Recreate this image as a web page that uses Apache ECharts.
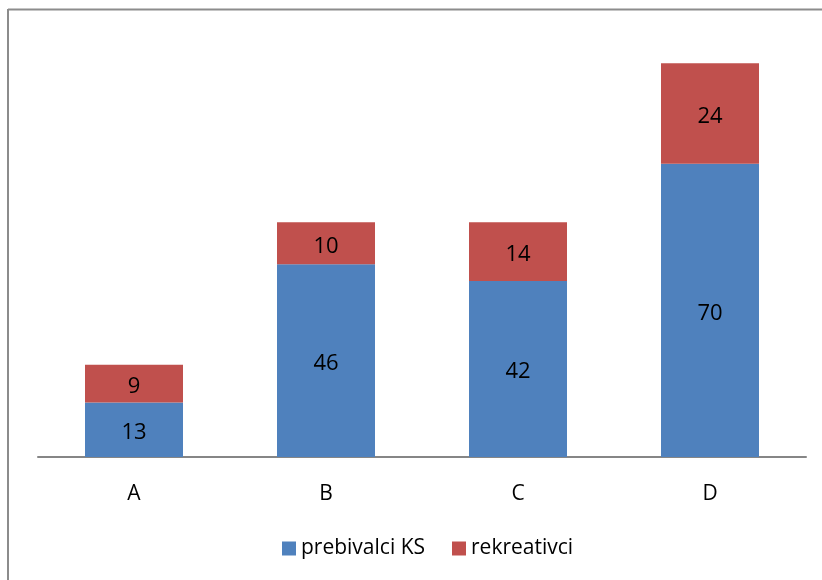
<!DOCTYPE html>
<html><head><meta charset="utf-8">
<script src="https://cdn.jsdelivr.net/npm/echarts@6/dist/echarts.min.js"></script>
<style>html,body{margin:0;padding:0;background:#fff}#c{width:822px;height:580px}</style>
</head><body><div id="c"></div>
<script>
const categories = ['A', 'B', 'C', 'D'];
const prebivalci = [13, 46, 42, 70];
const rekreativci = [9, 10, 14, 24];
const seriesNames = ['prebivalci KS', 'rekreativci'];

const chart = echarts.init(document.getElementById('c'));
const font = 'Open Sans';
chart.setOption({
  animation: false,
  backgroundColor: '#fff',
  graphic: [
    {type: 'line', shape: {x1: 8, y1: 9.5, x2: 822, y2: 9.5}, style: {stroke: '#8c8c8c', lineWidth: 2}},
    {type: 'line', shape: {x1: 8, y1: 9, x2: 8, y2: 580}, style: {stroke: '#8c8c8c', lineWidth: 2}}
  ],
  grid: {left: 38, right: 16, top: 38, bottom: 123},
  legend: {
    left: 277, top: 533, itemWidth: 14, itemHeight: 14, itemGap: 27,
    icon: 'rect',
    textStyle: {fontFamily: font, fontSize: 21, color: '#000'},
    data: seriesNames
  },
  xAxis: {
    type: 'category', data: categories,
    axisLine: {lineStyle: {color: '#868686', width: 2}},
    axisTick: {show: false},
    axisLabel: {color: '#000', fontFamily: font, fontSize: 21, margin: 27}
  },
  yAxis: {type: 'value', min: 0, max: 100, show: false, splitLine: {show: false}},
  series: [
    {name: seriesNames[0], type: 'bar', stack: 's', data: prebivalci, barWidth: 98,
     itemStyle: {color: '#4F81BD'},
     label: {show: true, position: 'inside', offset: [0, 3], color: '#000', fontFamily: font, fontSize: 22}},
    {name: seriesNames[1], type: 'bar', stack: 's', data: rekreativci, barWidth: 98,
     itemStyle: {color: '#C0504D'},
     label: {show: true, position: 'inside', offset: [0, 3], color: '#000', fontFamily: font, fontSize: 22}}
  ]
});
</script></body></html>
